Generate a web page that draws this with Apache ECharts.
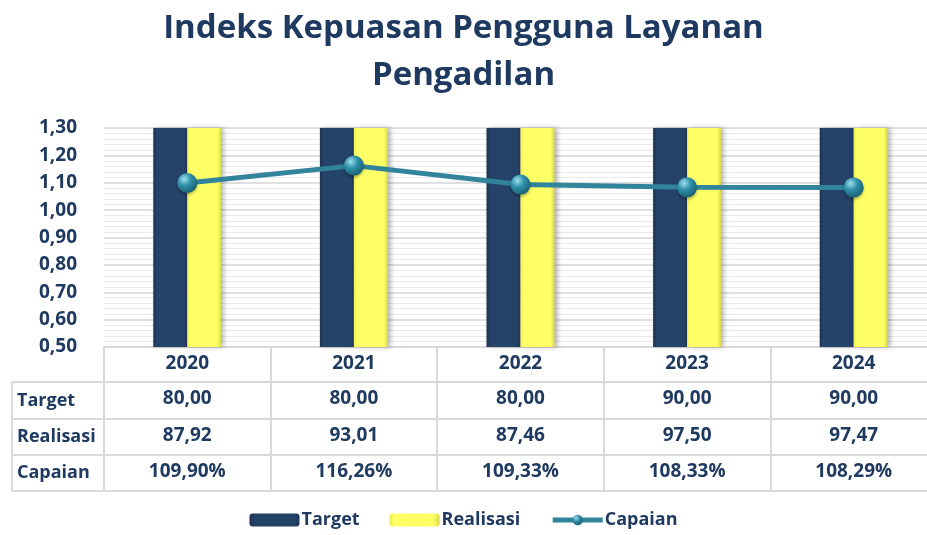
<!DOCTYPE html>
<html>
<head>
<meta charset="utf-8">
<script src="https://cdn.jsdelivr.net/npm/echarts@6/dist/echarts.min.js"></script>
<style>
  html, body { margin: 0; padding: 0; background: #fff; }
  #chart { width: 927px; height: 535px; }
</style>
</head>
<body>
<div id="chart"></div>
<script>
// data
const years = ['2020', '2021', '2022', '2023', '2024']
const targetVals = [80.00, 80.00, 80.00, 90.00, 90.00]
const realisasiVals = [87.92, 93.01, 87.46, 97.50, 97.47]
const capaianVals = [1.0990, 1.1626, 1.0933, 1.0833, 1.0829]
const yTicks = [0.5, 0.6, 0.7, 0.8, 0.9, 1.0, 1.1, 1.2, 1.3]

const txt = '#1F3A60'
const lineGray = '#D9D9D9'
const font = 'Open Sans'

const comma = (v, d) => v.toFixed(d).replace('.', ',')
const targetText = targetVals.map(v => comma(v, 2))
const realisasiText = realisasiVals.map(v => comma(v, 2))
const capaianText = capaianVals.map(v => comma(v * 100, 2) + '%')

// layout
const gridLeft = 104, gridTop = 128, gridH = 219, gridW = 833
const rowH = [35, 37, 36, 36] // header, target, realisasi, capaian

const chart = echarts.init(document.getElementById('chart'))

function rowAxis(data, offset, len, show) {
  return {
    type: 'category',
    data: data,
    gridIndex: 0,
    position: 'bottom',
    offset: offset,
    axisLine: { show: true, lineStyle: { color: lineGray, width: 2 } },
    axisTick: { show: show, length: len, interval: 0, lineStyle: { color: lineGray, width: 2 } },
    axisLabel: {
      show: show, interval: 0, margin: 7,
      color: txt, fontFamily: font, fontWeight: 'bold', fontSize: 19
    },
    splitLine: { show: false }
  }
}

const rowTops = []
let acc = gridTop + gridH
rowH.forEach(h => { rowTops.push(acc); acc += h })
rowTops.push(acc)

const xAxes = [
  rowAxis(years, 0, rowH[0], true),
  rowAxis(targetText, rowH[0], rowH[1], true),
  rowAxis(realisasiText, rowH[0] + rowH[1], rowH[2], true),
  rowAxis(capaianText, rowH[0] + rowH[1] + rowH[2], rowH[3], true),
  rowAxis(years, rowH[0] + rowH[1] + rowH[2] + rowH[3], 0, false)
]
xAxes[4].axisLabel.show = false

// left column of the table
const rowNames = ['Target', 'Realisasi', 'Capaian']
const leftGraphics = []
for (let i = 1; i <= 4; i++) {
  leftGraphics.push({
    type: 'line', silent: true,
    shape: { x1: 12, y1: rowTops[i], x2: gridLeft, y2: rowTops[i] },
    style: { stroke: lineGray, lineWidth: 2 }
  })
}
leftGraphics.push({
  type: 'line', silent: true,
  shape: { x1: 12, y1: rowTops[1], x2: 12, y2: rowTops[4] },
  style: { stroke: lineGray, lineWidth: 2 }
})
rowNames.forEach((n, i) => {
  leftGraphics.push({
    type: 'text', silent: true,
    x: 17, y: (rowTops[i + 1] + rowTops[i + 2]) / 2,
    style: {
      text: n, fill: txt, font: 'bold 18px "' + font + '"',
      textVerticalAlign: 'middle', verticalAlign: 'middle'
    }
  })
})

chart.setOption({
  animation: false,
  title: {
    text: 'Indeks Kepuasan Pengguna Layanan\nPengadilan',
    left: 'center',
    top: 0,
    textStyle: {
      color: txt, fontFamily: font, fontWeight: 'bold',
      fontSize: 33, lineHeight: 47
    }
  },
  legend: {
    bottom: 1,
    left: 'center',
    itemWidth: 50,
    itemHeight: 13,
    itemGap: 30,
    lineStyle: { width: 5 },
    textStyle: { color: txt, fontFamily: font, fontWeight: 'bold', fontSize: 18, padding: [0, 0, 0, -3] },
    data: ['Target', 'Realisasi', 'Capaian']
  },
  grid: { left: gridLeft, top: gridTop, height: gridH, width: gridW, outerBoundsMode: 'none' },
  xAxis: xAxes,
  yAxis: {
    type: 'value',
    min: yTicks[0],
    max: yTicks[yTicks.length - 1],
    interval: 0.1,
    axisLine: { show: false },
    axisTick: { show: false },
    axisLabel: {
      margin: 27,
      color: txt, fontFamily: font, fontWeight: 'bold', fontSize: 19,
      formatter: v => comma(v, 2)
    },
    splitLine: { lineStyle: { color: '#D6D6D6', width: 1.5 } },
    minorTick: { show: false, splitNumber: 5 },
    minorSplitLine: { show: true, lineStyle: { color: '#EAEAEA', width: 1 } }
  },
  series: [
    {
      name: 'Target',
      type: 'bar',
      data: targetVals,
      barWidth: 34,
      barGap: '0%',
      itemStyle: {
        color: new echarts.graphic.LinearGradient(0, 0, 1, 0, [
          { offset: 0, color: '#1A3150' },
          { offset: 0.1, color: '#254269' },
          { offset: 0.9, color: '#254269' },
          { offset: 1, color: '#1C3556' }
        ]),
        shadowColor: 'rgba(0,0,0,0.25)', shadowBlur: 4, shadowOffsetX: 2
      }
    },
    {
      name: 'Realisasi',
      type: 'bar',
      data: realisasiVals,
      barWidth: 34,
      barGap: '0%',
      itemStyle: {
        color: new echarts.graphic.LinearGradient(0, 0, 1, 0, [
          { offset: 0, color: '#EDED55' },
          { offset: 0.1, color: '#FFFF66' },
          { offset: 0.88, color: '#FFFF66' },
          { offset: 1, color: '#D8D84C' }
        ]),
        shadowColor: 'rgba(0,0,0,0.3)', shadowBlur: 5, shadowOffsetX: 3
      }
    },
    {
      name: 'Capaian',
      type: 'line',
      data: capaianVals,
      z: 5,
      symbol: 'circle',
      symbolSize: 20,
      lineStyle: { color: '#31849B', width: 5 },
      itemStyle: {
        color: new echarts.graphic.RadialGradient(0.35, 0.3, 0.75, [
          { offset: 0, color: '#9FE0F0' },
          { offset: 0.45, color: '#2E8FA8' },
          { offset: 1, color: '#1B5E70' }
        ]),
        shadowColor: 'rgba(0,0,0,0.3)', shadowBlur: 3, shadowOffsetY: 2
      }
    }
  ],
  graphic: leftGraphics
})
</script>
</body>
</html>
